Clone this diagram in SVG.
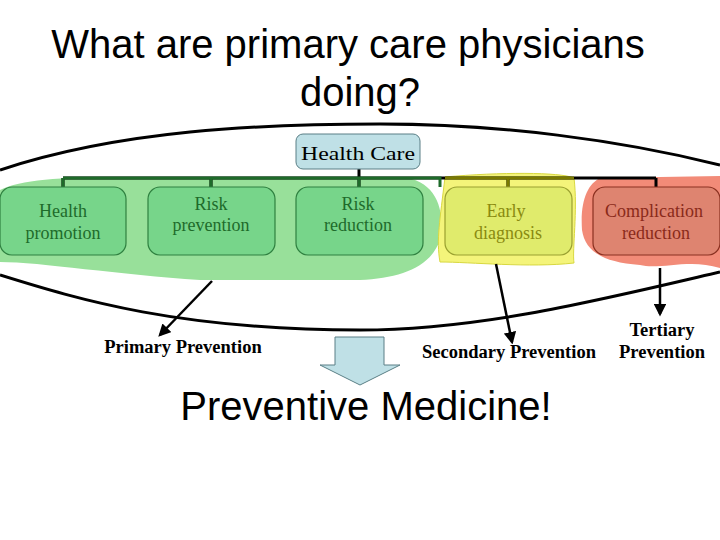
<svg xmlns="http://www.w3.org/2000/svg" width="720" height="540" viewBox="0 0 720 540">
<defs>
<style>
.node{stroke-width:1.2}
.t{font-family:"Liberation Serif",serif;font-size:18px;text-anchor:middle}
.b{font-family:"Liberation Serif",serif;font-size:18.5px;font-weight:bold;text-anchor:middle;fill:#000}
.ln{fill:none;stroke:#000;stroke-width:3}
</style>
<marker id="ah" viewBox="0 0 10 10" refX="8" refY="5" markerWidth="5" markerHeight="5" orient="auto"><path d="M0,0L10,5L0,10z" fill="#000"/></marker>
</defs>
<rect width="720" height="540" fill="#fff"/>
<text x="348" y="58" font-family="Liberation Sans,sans-serif" font-size="40" text-anchor="middle">What are primary care physicians</text>
<text x="360" y="106" font-family="Liberation Sans,sans-serif" font-size="40" text-anchor="middle">doing?</text>
<g id="outline">
<path class="ln" d="M0,170 C120,130 260,124 380,124 C500,124 620,140 720,165"/>
<path class="ln" d="M0,275 C80,300 180,330 360,330 C480,330 600,300 720,272"/>
</g>
<g id="blobs">
<path d="M0,190 C20,180 60,177 120,177 L400,177 C440,180 445,215 440,240 C430,268 400,278 360,280 L200,280 C120,275 40,262 0,262 Z" fill="#98e09a"/>
<path d="M445,177 C500,172 560,172 574,178 C578,210 572,250 574,263 C530,268 470,262 440,262 C436,240 440,220 445,177 Z" fill="#f4f47a" stroke="#d8d840"/>
<path d="M600,178 L720,176 L720,268 C690,258 660,270 640,265 C600,262 585,250 582,230 C580,200 588,184 600,178 Z" fill="#f28b78"/>
</g>
<g id="connectors" stroke="#000" fill="none">
<path d="M63,178H656" stroke-width="3"/>
<path d="M359,169V187M63,178V187M211,178V187M508,178V187M656,178V187" stroke-width="3"/>
<path d="M63,178H440V187M63,178V187M211,178V187M359,178V187" stroke="#1e6b2a" stroke-width="3"/>
<path d="M445,178H574M508,178V187" stroke="#7a7a00" stroke-width="3"/>
<path d="M212,281L160,335" stroke-width="2.5" marker-end="url(#ah)"/>
<path d="M496,264L512,342" stroke-width="2.5" marker-end="url(#ah)"/>
<path d="M660,268V314" stroke-width="2.5" marker-end="url(#ah)"/>
</g>
<g id="health-care"><rect x="296" y="134" width="124" height="35" rx="7" fill="#bfe0e6" stroke="#5a7f86"/><text class="t" x="358" y="160" font-size="24" textLength="114" lengthAdjust="spacingAndGlyphs" fill="#000">Health Care</text></g>
<g id="n1"><rect class="node" x="0" y="187" width="126" height="68" rx="12" fill="#77d58a" stroke="#2f8040"/><text class="t" x="63" y="217" fill="#1e6b2a">Health</text><text class="t" x="63" y="239" fill="#1e6b2a">promotion</text></g>
<g id="n2"><rect class="node" x="148" y="187" width="127" height="68" rx="12" fill="#77d58a" stroke="#2f8040"/><text class="t" x="211" y="210" fill="#1e6b2a">Risk</text><text class="t" x="211" y="231" fill="#1e6b2a">prevention</text></g>
<g id="n3"><rect class="node" x="296" y="187" width="127" height="68" rx="12" fill="#77d58a" stroke="#2f8040"/><text class="t" x="358" y="210" fill="#1e6b2a">Risk</text><text class="t" x="358" y="231" fill="#1e6b2a">reduction</text></g>
<g id="n4"><rect class="node" x="445" y="187" width="127" height="68" rx="12" fill="#e0eb6c" stroke="#9aa030"/><text class="t" x="506" y="217" fill="#8a8a10">Early</text><text class="t" x="508" y="239" fill="#8a8a10">diagnosis</text></g>
<g id="n5"><rect class="node" x="593" y="187" width="127" height="68" rx="12" fill="#de8470" stroke="#8a3020"/><text class="t" x="654" y="217" fill="#8a2a1a">Complication</text><text class="t" x="656" y="239" fill="#8a2a1a">reduction</text></g>
<g id="labels">
<text class="b" x="183" y="353">Primary Prevention</text>
<text class="b" x="509" y="358">Secondary Prevention</text>
<text class="b" x="662" y="336">Tertiary</text>
<text class="b" x="662" y="358">Prevention</text>
</g>
<g id="down-arrow"><path d="M335,337H384V365H400L360,385L320,365H335Z" fill="#bfe0e6" stroke="#5a7f86"/></g>
<text x="366" y="420" font-family="Liberation Sans,sans-serif" font-size="40" text-anchor="middle">Preventive Medicine!</text>
</svg>
